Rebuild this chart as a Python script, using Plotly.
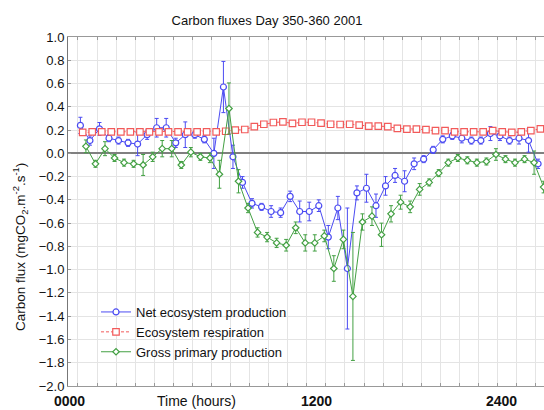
import plotly.graph_objects as go

# ---- data (half-hourly, hours of day) ----
hours = [0, 0.5, 1, 1.5, 2, 2.5, 3, 3.5, 4, 4.5, 5, 5.5, 6, 6.5, 7, 7.5, 8, 8.5,
         9, 9.5, 10, 10.5, 11, 11.5, 12, 12.5, 13, 13.5, 14, 14.5, 15, 15.5, 16,
         16.5, 17, 17.5, 18, 18.5, 19, 19.5, 20, 20.5, 21, 21.5, 22, 22.5, 23,
         23.5, 24]

nep = [0.24, 0.11, 0.21, 0.13, 0.11, 0.09, 0.08, 0.16, 0.22, 0.22,
       0.09, 0.16, 0.16, 0.12, 0.00, 0.57, -0.03, -0.25, -0.43, -0.46,
       -0.50, -0.51, -0.37, -0.50, -0.50, -0.45, -0.72, -0.47, -0.99, -0.34,
       -0.30, -0.45, -0.28, -0.19, -0.24, -0.09, -0.05, 0.03, 0.12, 0.15,
       0.13, 0.11, 0.11, 0.17, 0.15, 0.11, 0.13, 0.11, -0.09]
nep_err = [0.07, 0.04, 0.055, 0.03, 0.03, 0.03, 0.10, 0.04, 0.08, 0.08,
           0.04, 0.11, 0.03, 0.03, 0.13, 0.22, 0.10, 0.05, 0.04, 0.03,
           0.05, 0.04, 0.045, 0.09, 0.08, 0.05, 0.10, 0.10, 0.52, 0.06,
           0.12, 0.10, 0.08, 0.06, 0.09, 0.05, 0.03, 0.03, 0.03, 0.03,
           0.04, 0.03, 0.03, 0.06, 0.04, 0.03, 0.05, 0.10, 0.04]

resp = [0.18, 0.185, 0.185, 0.185, 0.185, 0.185, 0.185, 0.185, 0.185, 0.185,
        0.185, 0.185, 0.185, 0.185, 0.185, 0.19, 0.20, 0.205, 0.23, 0.25,
        0.265, 0.27, 0.257, 0.267, 0.267, 0.26, 0.25, 0.248, 0.25, 0.243,
        0.234, 0.234, 0.23, 0.214, 0.208, 0.208, 0.203, 0.195, 0.195, 0.185,
        0.185, 0.185, 0.185, 0.195, 0.185, 0.18, 0.185, 0.195, 0.21]

gpp = [0.06, -0.09, 0.04, -0.04, -0.08, -0.09, -0.10, -0.03, 0.04, 0.04,
       -0.10, 0.01, -0.03, -0.04, -0.18, 0.385, -0.24, -0.47, -0.68, -0.72,
       -0.77, -0.79, -0.64, -0.77, -0.77, -0.71, -0.99, -0.74, -1.23, -0.59,
       -0.54, -0.70, -0.52, -0.42, -0.46, -0.31, -0.25, -0.17, -0.08, -0.04,
       -0.06, -0.08, -0.07, -0.01, -0.05, -0.08, -0.05, -0.08, -0.29]
gpp_err = [0.055, 0.03, 0.06, 0.03, 0.03, 0.03, 0.09, 0.04, 0.07, 0.07,
           0.03, 0.04, 0.03, 0.04, 0.12, 0.22, 0.10, 0.04, 0.04, 0.04,
           0.04, 0.05, 0.05, 0.07, 0.07, 0.05, 0.11, 0.08, 0.55, 0.07,
           0.08, 0.10, 0.07, 0.06, 0.05, 0.05, 0.03, 0.03, 0.03, 0.03,
           0.03, 0.03, 0.03, 0.05, 0.03, 0.03, 0.03, 0.10, 0.05]

series_names = ["Net ecosystem production", "Ecosystem respiration", "Gross primary production"]
x_labels = ["0000", "1200", "2400"]

BLUE = "#4b4bf2"
RED = "#f25a5a"
GREEN = "#43a043"

x_blue = hours
x_red = [t + 0.12 for t in hours]
x_green = [t + 0.29 for t in hours]

fig = go.Figure()
fig.add_trace(go.Scatter(
    x=x_blue, y=nep, name=series_names[0], mode="lines+markers",
    line=dict(color=BLUE, width=1),
    marker=dict(symbol="circle", size=6, color="white", line=dict(color=BLUE, width=1.2)),
    error_y=dict(type="data", array=nep_err, visible=True, color=BLUE, thickness=1, width=2),
))
fig.add_trace(go.Scatter(
    x=x_red, y=resp, name=series_names[1], mode="lines+markers",
    line=dict(color=RED, width=1, dash="3px,2px"),
    marker=dict(symbol="square", size=6.5, color="white", line=dict(color=RED, width=1.2)),
))
fig.add_trace(go.Scatter(
    x=x_green, y=gpp, name=series_names[2], mode="lines+markers",
    line=dict(color=GREEN, width=1),
    marker=dict(symbol="diamond", size=5, color="white", line=dict(color=GREEN, width=1.2)),
    error_y=dict(type="data", array=gpp_err, visible=True, color=GREEN, thickness=1, width=2),
))

FONT = "Liberation Sans, Arial, sans-serif"

annotations = []
for lab, xp in zip(x_labels, [69, 316, 501]):
    annotations.append(dict(text="<b>%s</b>" % lab, xref="paper", yref="paper",
                            x=(xp - 68) / 476, y=(386 - 401) / 349, showarrow=False,
                            xanchor="center", yanchor="middle",
                            font=dict(size=14, color="#111", family=FONT)))
annotations.append(dict(text="Time (hours)", xref="paper", yref="paper",
                        x=(196 - 68) / 476, y=(386 - 401) / 349, showarrow=False,
                        xanchor="center", yanchor="middle",
                        font=dict(size=14, color="#111", family=FONT)))
annotations.append(dict(text="Carbon flux (mgCO<sub>2</sub>.m<sup>-2</sup>.s<sup>-1</sup>)",
                        xref="paper", yref="paper", x=(20 - 68) / 476, y=(386 - 247) / 349,
                        showarrow=False, textangle=-90, xanchor="center", yanchor="middle",
                        font=dict(size=13.5, color="#111", family=FONT)))

fig.update_layout(
    width=544, height=410,
    margin=dict(l=68, r=0, t=37, b=24),
    paper_bgcolor="white", plot_bgcolor="white",
    font=dict(family=FONT, size=13, color="#111"),
    title=dict(text="Carbon fluxes Day 350-360 2001", x=267 / 544, xref="container",
               xanchor="center", y=1 - 20 / 410, yref="container", yanchor="middle",
               font=dict(size=13, color="#111", family=FONT)),
    showlegend=True,
    legend=dict(x=(96 - 68) / 476, y=(386 - 297) / 349, xanchor="left", yanchor="top",
                bgcolor="rgba(0,0,0,0)", borderwidth=0, itemwidth=30,
                font=dict(size=13, color="#111", family=FONT), tracegroupgap=0),
    annotations=annotations,
)
fig.update_xaxes(range=[-0.65, 24.31], showticklabels=False,
                 tick0=-0.126, dtick=1, showgrid=True, gridcolor="#e4e4e4", gridwidth=1,
                 ticks="inside", ticklen=3, tickcolor="#999",
                 showline=True, linecolor="#999", linewidth=1, mirror="ticks",
                 zeroline=False)
fig.update_yaxes(range=[-2, 1], dtick=0.2, tick0=0, tickformat=".1f",
                 showgrid=True, gridcolor="#e4e4e4", gridwidth=1,
                 ticks="inside", ticklen=3, tickcolor="#999",
                 showline=True, linecolor="#777", linewidth=1,
                 zeroline=True, zerolinecolor="#808080", zerolinewidth=2,
                 tickfont=dict(size=13, color="#111", family=FONT))

fig.write_html("out.html", config={"displayModeBar": False},
               post_script="document.body.style.margin='0px';")
